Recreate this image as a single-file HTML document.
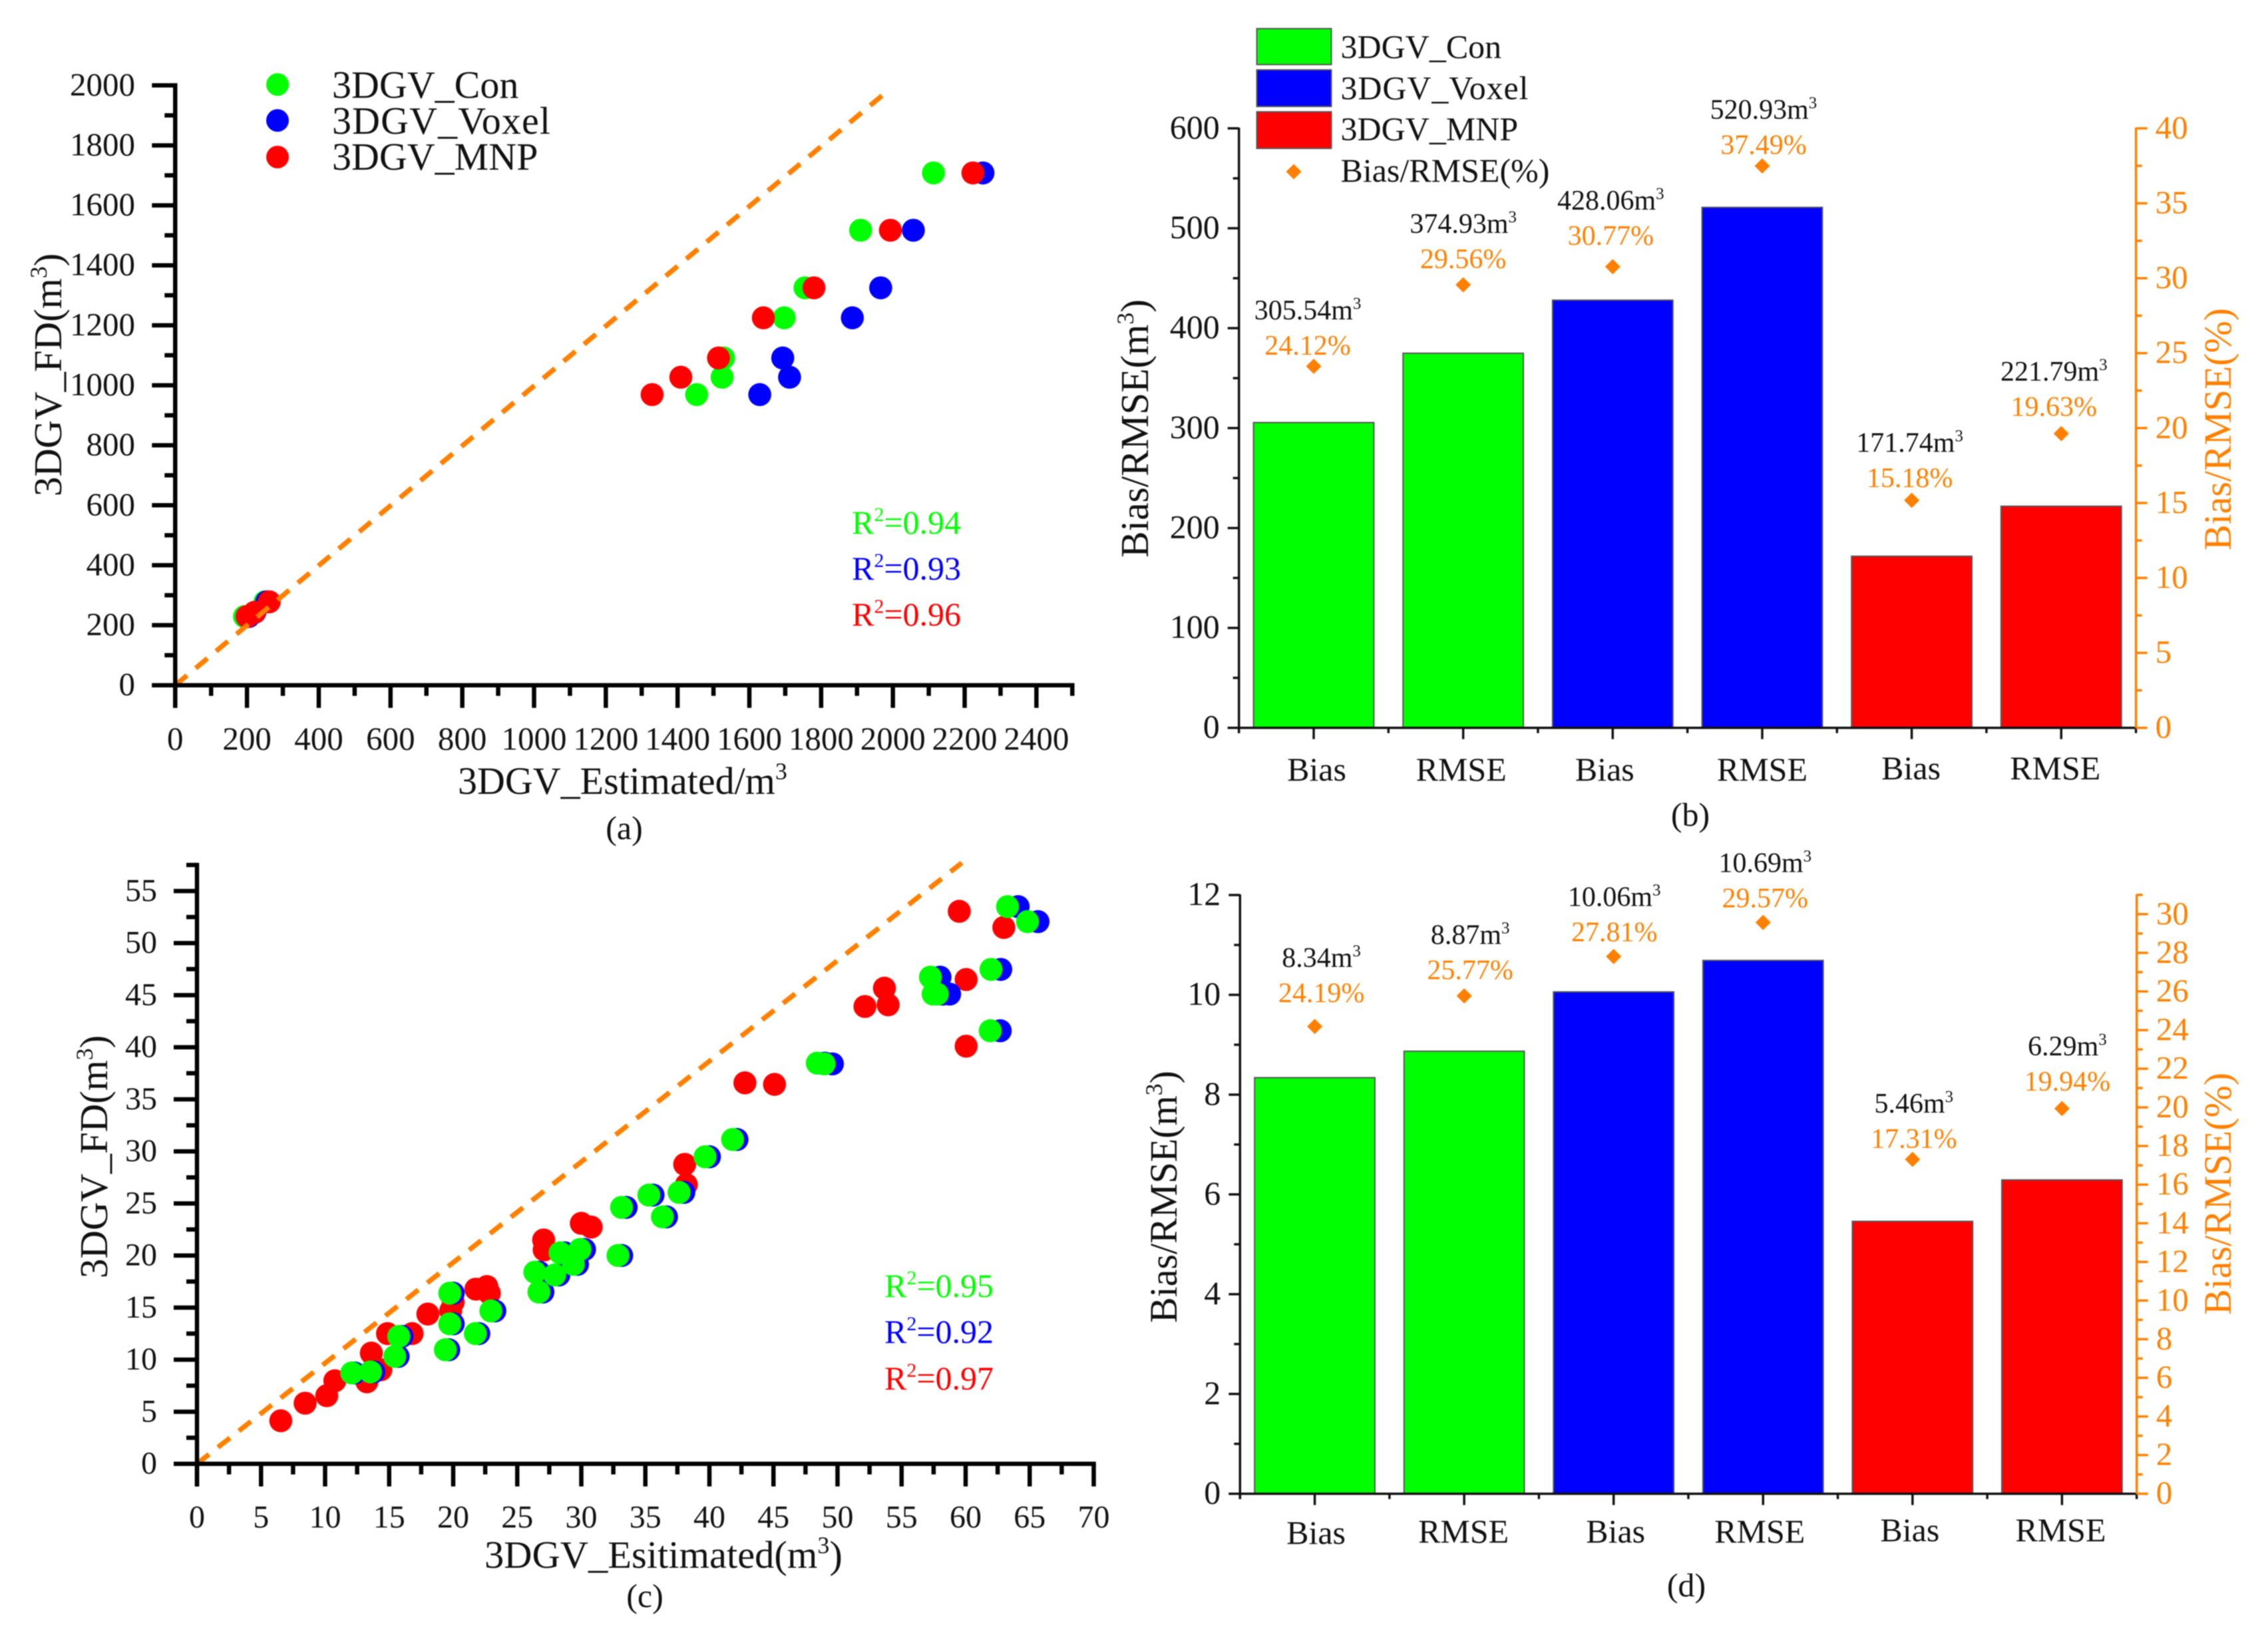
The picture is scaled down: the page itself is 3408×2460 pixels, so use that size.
<!DOCTYPE html>
<html lang="en">
<head>
<meta charset="utf-8">
<title>3DGV estimation comparison</title>
<style>
html,body{margin:0;padding:0;background:#fff;width:3408px;height:2460px;overflow:hidden}
svg{display:block;filter:blur(0.7px)}
text{font-family:"Liberation Serif","DejaVu Serif",serif;fill:#111}
.g{fill:#00ff00}.b{fill:#0000ff}.r{fill:#ff0000}.o{fill:#ff8000}
</style>
</head>
<body>
<svg id="figure" xmlns="http://www.w3.org/2000/svg" width="3408" height="2460" viewBox="0 0 3408 2460">
  <rect x="0" y="0" width="3408" height="2460" fill="#fff"/>

  <g>
    <g>
      <circle cx="417" cy="127" r="17" fill="#00ff00"/>
      <circle cx="417" cy="181" r="17" fill="#0000ff"/>
      <circle cx="417" cy="236" r="17" fill="#ff0000"/>
      <text x="499" y="147" font-size="58">3DGV_Con</text>
      <text x="499" y="201" font-size="58" textLength="328">3DGV_Voxel</text>
      <text x="499" y="255" font-size="58">3DGV_MNP</text>
    </g>
    <text class="g" x="1280" y="802" font-size="50">R<tspan dy="-19" font-size="30">2</tspan><tspan dy="19">=0.94</tspan></text>
    <text class="b" x="1280" y="871" font-size="50">R<tspan dy="-19" font-size="30">2</tspan><tspan dy="19">=0.93</tspan></text>
    <text class="r" x="1280" y="940" font-size="50">R<tspan dy="-19" font-size="30">2</tspan><tspan dy="19">=0.96</tspan></text>
    <text x="688" y="1193" font-size="58">3DGV_Estimated/m<tspan dy="-22" font-size="36">3</tspan></text>
    <text transform="translate(92 746) rotate(-90)" font-size="59">3DGV_FD(m<tspan dy="-22" font-size="36">3</tspan><tspan dy="22">)</tspan></text>
    <text x="938" y="1261" font-size="50" text-anchor="middle">(a)</text>
  </g>

  <g>
    <g>
      <rect x="1888.5" y="43" width="112" height="54" fill="#00ff00" stroke="#555" stroke-width="2"/>
      <rect x="1888.5" y="105" width="112" height="55" fill="#0000ff" stroke="#555" stroke-width="2"/>
      <rect x="1888.5" y="168" width="112" height="55" fill="#ff0000" stroke="#555" stroke-width="2"/>
      <polygon points="1944,246.5 1955.5,258 1944,269.5 1932.5,258" fill="#ff8000"/>
      <text x="2014.5" y="87" font-size="50">3DGV_Con</text>
      <text x="2014.5" y="149" font-size="50" textLength="282">3DGV_Voxel</text>
      <text x="2014.5" y="210.5" font-size="50">3DGV_MNP</text>
      <text x="2014.5" y="273" font-size="50">Bias/RMSE(%)</text>
    </g>
    <text transform="translate(1725 838) rotate(-90)" font-size="59.5">Bias/RMSE(m<tspan dy="-22" font-size="36">3</tspan><tspan dy="22">)</tspan></text>
    <text class="o" transform="translate(3352 827) rotate(-90)" font-size="58">Bias/RMSE(%)</text>
    <text x="2540" y="1241" font-size="50" text-anchor="middle">(b)</text>
  </g>

  <g>
    <text class="g" x="1329" y="1949" font-size="50">R<tspan dy="-19" font-size="30">2</tspan><tspan dy="19">=0.95</tspan></text>
    <text class="b" x="1329" y="2018" font-size="50">R<tspan dy="-19" font-size="30">2</tspan><tspan dy="19">=0.92</tspan></text>
    <text class="r" x="1329" y="2088" font-size="50">R<tspan dy="-19" font-size="30">2</tspan><tspan dy="19">=0.97</tspan></text>
    <text x="728" y="2356" font-size="58.5">3DGV_Esitimated(m<tspan dy="-22" font-size="36">3</tspan><tspan dy="22">)</tspan></text>
    <text transform="translate(161 1921) rotate(-90)" font-size="59">3DGV_FD(m<tspan dy="-22" font-size="36">3</tspan><tspan dy="22">)</tspan></text>
    <text x="969" y="2415" font-size="50" text-anchor="middle">(c)</text>
  </g>

  <g>
    <text transform="translate(1768 1988) rotate(-90)" font-size="58">Bias/RMSE(m<tspan dy="-22" font-size="36">3</tspan><tspan dy="22">)</tspan></text>
    <text class="o" transform="translate(3352 1976) rotate(-90)" font-size="58">Bias/RMSE(%)</text>
    <text x="2534" y="2399" font-size="50" text-anchor="middle">(d)</text>
  </g>
</svg>

<script>
// ---------- Panel (a) data ----------
const aFD = [229, 243, 278, 969, 1027, 1091, 1225, 1325, 1517, 1708];
const aCon = [193, 222, 250, 1453, 1524, 1528, 1697, 1755, 1910, 2113];
const aVoxel = [205, 222, 255, 1629, 1712, 1693, 1887, 1966, 2057, 2251];
const aMNP = [200, 221, 262, 1329, 1409, 1514, 1639, 1780, 1993, 2223];
const aXTicks = [0, 200, 400, 600, 800, 1000, 1200, 1400, 1600, 1800, 2000, 2200, 2400];
const aYTicks = [0, 200, 400, 600, 800, 1000, 1200, 1400, 1600, 1800, 2000];
const aRefLineX = [0, 1980];
const aRefLineY = [0, 1976];

// ---------- Panel (c) data ----------
const cConX = [12.08, 13.54, 15.44, 15.75, 19.39, 19.73, 19.73, 21.73, 22.94, 26.69, 26.37, 27.92, 28.34, 29.38, 29.89, 32.86, 33.14, 35.27, 36.33, 37.63, 39.66, 41.81, 48.42, 48.96, 57.25, 57.46, 57.79, 61.98, 61.92, 63.27, 64.83];
const cConY = [8.72, 8.82, 10.31, 12.23, 10.95, 16.38, 13.44, 12.5, 14.68, 16.49, 18.4, 18.13, 20.26, 19.15, 20.58, 20, 24.62, 25.8, 23.71, 26.06, 29.48, 31.14, 38.47, 38.4, 46.73, 45.1, 45.1, 47.47, 41.58, 53.5, 52.06];
const cVoxelX = [12.3, 13.8, 15.7, 16.0, 19.65, 20.0, 20.0, 22.0, 23.25, 27.0, 26.7, 28.25, 28.7, 29.7, 30.25, 33.15, 33.5, 35.6, 36.65, 38.0, 40.0, 42.15, 49.0, 49.6, 58.0, 58.2, 58.75, 62.74, 62.7, 64.1, 65.65];
const cVoxelY = [8.72, 8.82, 10.31, 12.23, 10.95, 16.38, 13.44, 12.5, 14.68, 16.49, 18.4, 18.13, 20.26, 19.15, 20.58, 20, 24.62, 25.8, 23.71, 26.06, 29.48, 31.14, 38.47, 38.4, 46.73, 45.1, 45.1, 47.47, 41.58, 53.5, 52.06];
const cMNPX = [6.54, 8.44, 10.13, 10.76, 13.26, 14.35, 13.61, 14.87, 16.79, 18.02, 20, 19.8, 21.77, 22.63, 22.82, 27.06, 27.1, 30, 30.77, 38.07, 38.2, 42.77, 45.08, 52.14, 53.66, 53.95, 60.04, 60.04, 59.5, 62.98];
const cMNPY = [4.13, 5.82, 6.54, 7.97, 7.87, 9.03, 10.63, 12.5, 12.5, 14.38, 15.53, 14.68, 16.77, 17.02, 16.38, 21.49, 20.54, 23.09, 22.73, 28.75, 26.8, 36.58, 36.43, 43.91, 45.67, 44.07, 46.5, 40.1, 53.05, 51.5];
const cXTicks = [0, 5, 10, 15, 20, 25, 30, 35, 40, 45, 50, 55, 60, 65, 70];
const cYTicks = [0, 5, 10, 15, 20, 25, 30, 35, 40, 45, 50, 55];
const cRefLineX = [0, 59.7];
const cRefLineY = [0, 57.7];

// ---------- Panel (b) data ----------
const categories = ['Bias', 'RMSE', 'Bias', 'RMSE', 'Bias', 'RMSE'];
const barColors = ['#00ff00', '#00ff00', '#0000ff', '#0000ff', '#ff0000', '#ff0000'];
const bValues = [305.54, 374.93, 428.06, 520.93, 171.74, 221.79];
const bPercent = [24.12, 29.56, 30.77, 37.49, 15.18, 19.63];
const bLeftTicks = [0, 100, 200, 300, 400, 500, 600];
const bRightTicks = [0, 5, 10, 15, 20, 25, 30, 35, 40];

// ---------- Panel (d) data ----------
const dValues = [8.34, 8.87, 10.06, 10.69, 5.46, 6.29];
const dPercent = [24.19, 25.77, 27.81, 29.57, 17.31, 19.94];
const dLeftTicks = [0, 2, 4, 6, 8, 10, 12];
const dRightTicks = [0, 2, 4, 6, 8, 10, 12, 14, 16, 18, 20, 22, 24, 26, 28, 30];

// ---------- helpers ----------
const SVGNS = 'http://www.w3.org/2000/svg';
const root = document.getElementById('figure');
const ORANGE = '#ff8000';

function node(parent, tag, attrs, text) {
  const el = document.createElementNS(SVGNS, tag);
  for (const k in attrs) el.setAttribute(k, attrs[k]);
  if (text !== undefined) el.textContent = text;
  parent.appendChild(el);
  return el;
}

function minorValues(majors, step, max) {
  const out = [];
  for (let v = 0; v <= max + 1e-9; v += step) {
    if (!majors.some(m => Math.abs(m - v) < 1e-9)) out.push(v);
  }
  return out;
}

// ---------- scatter panels ----------
function drawScatter(cfg) {
  const X = v => cfg.x0 + v * cfg.sx;
  const Y = v => cfg.y0 - v * cfg.sy;
  const g = node(root, 'g', {});
  
  

  for (const s of cfg.series) {
    const sg = node(g, 'g', { fill: s.color });
    
    
    s.xs.forEach((xv, i) => {
      const pt = node(sg, 'circle', { cx: X(xv), cy: Y(s.ys[i]), r: 17.3 });
      
      
    });
  }

  const ref = node(g, 'line', {
    x1: X(cfg.refX[0]), y1: Y(cfg.refY[0]), x2: X(cfg.refX[1]), y2: Y(cfg.refY[1]),
    stroke: ORANGE, 'stroke-width': 7.5, 'stroke-dasharray': '23 17'
  });
  
  

  const lw = 6.5;
  const xAxis = node(g, 'line', { x1: cfg.x0 - 35, y1: cfg.y0, x2: X(cfg.xMax) + lw / 2, y2: cfg.y0, stroke: '#000', 'stroke-width': lw });
  
  
  const yAxis = node(g, 'line', { x1: cfg.x0, y1: cfg.y0 + 34, x2: cfg.x0, y2: Y(cfg.yMax) - lw / 2, stroke: '#000', 'stroke-width': lw });
  
  

  cfg.xTicks.forEach(v => {
    const t = node(g, 'line', { x1: X(v), x2: X(v), y1: cfg.y0, y2: cfg.y0 + 34, stroke: '#000', 'stroke-width': lw });
    
    
    const l = node(g, 'text', { x: X(v), y: cfg.xLabelY, 'font-size': cfg.fs, 'text-anchor': 'middle' }, String(v));
    
    
  });
  minorValues(cfg.xTicks, cfg.xMinor, cfg.xMax).forEach(v => {
    const t = node(g, 'line', { x1: X(v), x2: X(v), y1: cfg.y0, y2: cfg.y0 + 16, stroke: '#000', 'stroke-width': lw });
    
    
  });
  cfg.yTicks.forEach(v => {
    const t = node(g, 'line', { x1: cfg.x0 - 35, x2: cfg.x0, y1: Y(v), y2: Y(v), stroke: '#000', 'stroke-width': lw });
    
    
    const l = node(g, 'text', { x: cfg.yLabelX, y: Y(v) + 15, 'font-size': cfg.fs, 'text-anchor': 'end' }, String(v));
    
    
  });
  minorValues(cfg.yTicks, cfg.yMinor, cfg.yMax).forEach(v => {
    const t = node(g, 'line', { x1: cfg.x0 - 16, x2: cfg.x0, y1: Y(v), y2: Y(v), stroke: '#000', 'stroke-width': lw });
    
    
  });
}

drawScatter({
  name: 'panel-a-scatter', x0: 263.3, y0: 1029.7, sx: 0.5392, sy: 0.4507,
  xMax: 2500, yMax: 2000, xMinor: 100, yMinor: 100,
  xTicks: aXTicks, yTicks: aYTicks, refX: aRefLineX, refY: aRefLineY,
  xLabelY: 1126.5, yLabelX: 203, fs: 49,
  series: [
    { name: 'series-con', color: '#00ff00', xs: aCon, ys: aFD },
    { name: 'series-voxel', color: '#0000ff', xs: aVoxel, ys: aFD },
    { name: 'series-mnp', color: '#ff0000', xs: aMNP, ys: aFD }
  ]
});

drawScatter({
  name: 'panel-c-scatter', x0: 296, y0: 2199.7, sx: 19.25, sy: 15.65,
  xMax: 70, yMax: 57.5, xMinor: 2.5, yMinor: 2.5,
  xTicks: cXTicks, yTicks: cYTicks, refX: cRefLineX, refY: cRefLineY,
  xLabelY: 2295.5, yLabelX: 236, fs: 48,
  series: [
    { name: 'series-mnp', color: '#ff0000', xs: cMNPX, ys: cMNPY },
    { name: 'series-voxel', color: '#0000ff', xs: cVoxelX, ys: cVoxelY },
    { name: 'series-con', color: '#00ff00', xs: cConX, ys: cConY }
  ]
});

// ---------- bar panels ----------
function drawBars(cfg) {
  const step = (cfg.xR - cfg.xL) / cfg.values.length;
  const CX = i => cfg.xL + step * (i + 0.5);
  const YL = v => cfg.y0 - v * cfg.sL;
  const YR = v => cfg.y0 - v * cfg.sR;
  const g = node(root, 'g', {});
  
  

  cfg.values.forEach((v, i) => {
    const w = step * 0.805;
    const bar = node(g, 'rect', { x: CX(i) - w / 2, y: YL(v), width: w, height: cfg.y0 - YL(v), fill: barColors[i], stroke: '#555', 'stroke-width': 2 });
    
    
  });

  const lw = 3.5;
  const xAxis = node(g, 'line', { x1: cfg.xL - 17, x2: cfg.xR, y1: cfg.y0, y2: cfg.y0, stroke: '#111', 'stroke-width': lw });
  
  
  const yAxis = node(g, 'line', { x1: cfg.xL, x2: cfg.xL, y1: cfg.y0 + 8, y2: YL(cfg.leftMax) - 1, stroke: '#111', 'stroke-width': lw });
  
  
  const rAxis = node(g, 'line', { x1: cfg.xR, x2: cfg.xR, y1: cfg.y0, y2: YR(cfg.rightMax) - 1, stroke: ORANGE, 'stroke-width': 3.5 });
  
  

  for (let i = 0; i <= cfg.values.length; i++) {
    const bt = node(g, 'line', { x1: cfg.xL + step * i, x2: cfg.xL + step * i, y1: cfg.y0, y2: cfg.y0 + 8, stroke: '#111', 'stroke-width': lw });
    
    
  }

  categories.forEach((c, i) => {
    const t = node(g, 'line', { x1: CX(i), x2: CX(i), y1: cfg.y0, y2: cfg.y0 + 17, stroke: '#111', 'stroke-width': lw });
    
    
    const l = node(g, 'text', { x: CX(i) + cfg.catShift[i], y: cfg.catY[i], 'font-size': 50, 'text-anchor': 'middle' }, c);
    
    
  });

  cfg.leftTicks.forEach(v => {
    const t = node(g, 'line', { x1: cfg.xL - 17, x2: cfg.xL, y1: YL(v), y2: YL(v), stroke: '#111', 'stroke-width': lw });
    
    
    const l = node(g, 'text', { x: cfg.xL - 29, y: YL(v) + 15, 'font-size': 50, 'text-anchor': 'end' }, String(v));
    
    
  });
  minorValues(cfg.leftTicks, cfg.leftMinor, cfg.leftMax).forEach(v => {
    const t = node(g, 'line', { x1: cfg.xL - 9, x2: cfg.xL, y1: YL(v), y2: YL(v), stroke: '#111', 'stroke-width': lw });
    
    
  });

  cfg.rightTicks.forEach(v => {
    const t = node(g, 'line', { x1: cfg.xR, x2: cfg.xR + 17, y1: YR(v), y2: YR(v), stroke: ORANGE, 'stroke-width': 3.5 });
    
    
    const l = node(g, 'text', { x: cfg.xR + 29, y: YR(v) + 15, 'font-size': 49, class: 'o' }, String(v));
    
    
  });
  minorValues(cfg.rightTicks, cfg.rightMinor, cfg.rightMax).forEach(v => {
    const t = node(g, 'line', { x1: cfg.xR, x2: cfg.xR + 9, y1: YR(v), y2: YR(v), stroke: ORANGE, 'stroke-width': 3.5 });
    
    
  });

  cfg.percent.forEach((p, i) => {
    const cx = CX(i), cy = YR(p), r = 11.5;
    const d = node(g, 'polygon', { points: [cx, cy - r, cx + r, cy, cx, cy + r, cx - r, cy].join(' '), fill: ORANGE });
    
    
    const pct = node(g, 'text', { x: cx + cfg.labelShift[i], y: cy - cfg.labelLift[i], 'font-size': 42, 'text-anchor': 'middle', class: 'o' }, p.toFixed(2) + '%');
    
    
    const val = node(g, 'text', { x: cx + cfg.labelShift[i], y: cy - cfg.labelLift[i] - 53, 'font-size': 42, 'text-anchor': 'middle' }, cfg.values[i].toFixed(2) + 'm');
    
    
    node(val, 'tspan', { dy: -16, 'font-size': 25 }, '3');
  });
}

drawBars({
  name: 'panel-b-bars', xL: 1861.7, xR: 3209.6, y0: 1093.7, sL: 1.5013, sR: 22.52,
  leftMax: 600, rightMax: 40, leftMinor: 50, rightMinor: 2.5,
  leftTicks: bLeftTicks, rightTicks: bRightTicks, values: bValues, percent: bPercent,
  catShift: [4.5, -3, -12, 0, -1, -9], catY: [1173, 1173, 1173, 1173, 1171, 1171],
  labelShift: [-9, 0, -3, 2, -3, -11], labelLift: [17.7, 25, 33, 17.7, 20, 26.5]
});

drawBars({
  name: 'panel-d-bars', xL: 1863.3, xR: 3210.7, y0: 2244.7, sL: 74.97, sR: 29.03,
  leftMax: 12, rightMax: 31, leftMinor: 1, rightMinor: 1,
  leftTicks: dLeftTicks, rightTicks: dRightTicks, values: dValues, percent: dPercent,
  catShift: [2, -1, 3, -5, -4, -2], catY: [2320, 2318, 2318, 2318, 2316, 2316],
  labelShift: [10, 9, 1, 3, 2, 8], labelLift: [36.6, 25, 23, 22.6, 17, 27]
});
</script>
</body>
</html>
